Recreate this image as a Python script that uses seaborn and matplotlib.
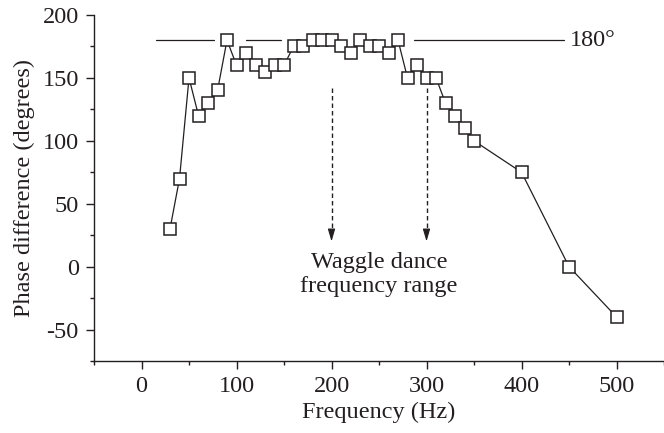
import matplotlib
matplotlib.use("Agg")
import matplotlib.pyplot as plt
import seaborn as sns
import pandas as pd
from matplotlib.ticker import MultipleLocator

# ---- data ----
freq_hz = [30, 40, 50, 60, 70, 80, 90, 100, 110, 120, 130, 140, 150, 160, 170,
           180, 190, 200, 210, 220, 230, 240, 250, 260, 270, 280, 290, 300, 310,
           320, 330, 340, 350, 400, 450, 500]
phase_deg = [30, 70, 150, 120, 130, 140, 180, 160, 170, 160, 155, 160, 160, 175, 175,
             180, 180, 180, 175, 170, 180, 175, 175, 170, 180, 150, 160, 150, 150,
             130, 120, 110, 100, 75, 0, -40]
ref_level = 180
ref_segments = [(15, 76), (110, 147), (287, 445)]
range_freqs = [200, 300]
range_top, range_tip = 142, 20
x_ticks = [0, 100, 200, 300, 400, 500]
y_ticks = [-50, 0, 50, 100, 150, 200]

df = pd.DataFrame({"Frequency (Hz)": freq_hz, "Phase difference (degrees)": phase_deg})

ink = "#231f20"
fs = 17.5
sns.set_theme(style="ticks")
plt.rcParams["font.family"] = ["Liberation Serif", "DejaVu Serif"]
plt.rcParams["axes.unicode_minus"] = False

fig = plt.figure(figsize=(6.64, 4.33), dpi=100)
ax = fig.add_axes([0.1416, 0.1663, 0.8584, 0.7991])

sns.lineplot(data=df, x="Frequency (Hz)", y="Phase difference (degrees)", ax=ax,
             color=ink, linewidth=0.9, marker="s", markersize=8.5,
             markerfacecolor="white", markeredgecolor=ink, markeredgewidth=1.1,
             zorder=3)

# 180 degree reference line
for x0, x1 in ref_segments:
    ax.plot([x0, x1], [ref_level, ref_level], color=ink, linewidth=0.9, zorder=2)
ax.text(ref_segments[-1][1] + 6, ref_level, "180°", ha="left", va="center",
        fontsize=fs, color=ink)

# waggle dance frequency range arrows
for fx in range_freqs:
    ax.plot([fx, fx], [range_top, range_tip + 7], color=ink, linewidth=1.0,
            dashes=(3.2, 2.2), zorder=2)
    ax.annotate("", xy=(fx, range_tip), xytext=(fx, range_tip + 8),
                arrowprops=dict(arrowstyle="-|>,head_length=0.75,head_width=0.22",
                                color=ink, lw=0.8, mutation_scale=10,
                                shrinkA=0, shrinkB=0))
ax.text(sum(range_freqs) / 2, -6.5, "Waggle dance\nfrequency range", ha="center",
        va="center", fontsize=fs, color=ink, linespacing=1.2)

ax.set_xlim(-50, 550)
ax.set_ylim(-75, 200)
ax.set_xticks(x_ticks)
ax.set_yticks(y_ticks)
ax.xaxis.set_minor_locator(MultipleLocator(50))
ax.yaxis.set_minor_locator(MultipleLocator(25))
ax.tick_params(axis="both", which="major", length=6, width=1.0, color=ink,
               labelsize=fs, labelcolor=ink, pad=5, direction="out")
ax.tick_params(axis="both", which="minor", length=3, width=1.0, color=ink,
               direction="out")
ax.set_xlabel("Frequency (Hz)", fontsize=fs, color=ink, labelpad=3)
ax.set_ylabel("Phase difference (degrees)", fontsize=fs, color=ink, labelpad=5)

sns.despine(ax=ax)
for s in ("left", "bottom"):
    ax.spines[s].set_color(ink)
    ax.spines[s].set_linewidth(1.0)

fig.savefig("out.png", dpi=100)
